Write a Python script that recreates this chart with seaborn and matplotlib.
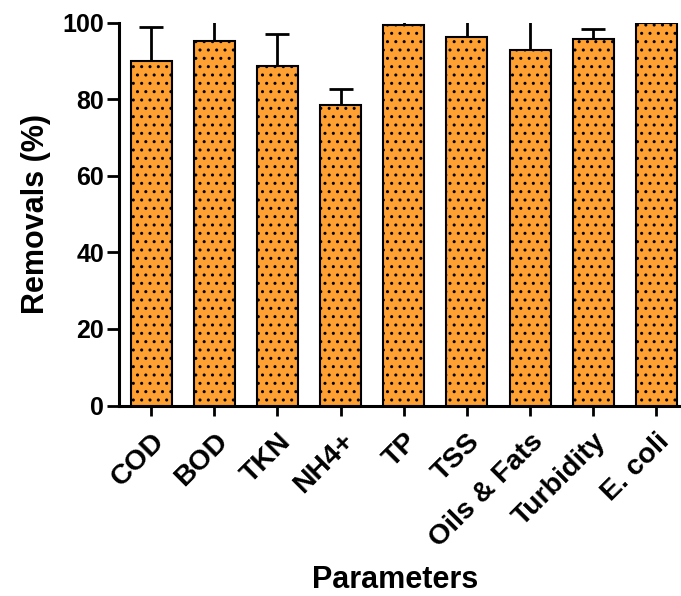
import matplotlib
matplotlib.use("Agg")
import matplotlib.pyplot as plt
import seaborn as sns
import pandas as pd
import numpy as np

categories = ["COD", "BOD", "TKN", "NH4+", "TP", "TSS", "Oils & Fats", "Turbidity", "E. coli"]
removals = [89.9, 95.1, 88.6, 78.4, 99.4, 96.3, 92.7, 95.8, 99.9]
upper_err = [9.0, 7.0, 8.5, 4.2, 1.5, 5.5, 9.0, 2.6, 0.0]

df = pd.DataFrame({"Parameter": categories, "Removal": removals})

sns.set_theme(style="ticks")
plt.rcParams["font.family"] = ["Liberation Sans", "DejaVu Sans"]
plt.rcParams["font.weight"] = "bold"
plt.rcParams["hatch.linewidth"] = 1.0
for k in ["text.color", "axes.labelcolor", "xtick.color", "ytick.color", "axes.edgecolor"]:
    plt.rcParams[k] = "black"

fig = plt.figure(figsize=(6.81, 5.96), dpi=100)
ax = fig.add_axes([0.1747, 0.3196, 1.0 - 0.1747, 0.9622 - 0.3196])

sns.barplot(data=df, x="Parameter", y="Removal", ax=ax, color="#FFA033",
            width=0.65, edgecolor="black", linewidth=1.5, saturation=1,
            errorbar=None, zorder=3)
for p in ax.patches:
    p.set_hatch("..")
    p.set_facecolor("#FFA033")

xpos = np.arange(len(categories))
ax.errorbar(xpos, removals, yerr=[np.zeros(len(categories)), upper_err],
            fmt="none", ecolor="black", elinewidth=2.0, capsize=8.3,
            capthick=2.0, zorder=2)

ax.set_ylim(0, 100)
ax.set_xlim(-0.51, 8.39)
ax.set_yticks([0, 20, 40, 60, 80, 100])
sns.despine(ax=ax)
for s in ["left", "bottom"]:
    ax.spines[s].set_linewidth(2.2)
ax.tick_params(axis="y", length=8.6, width=2.0, labelsize=18, pad=2)
ax.tick_params(axis="x", length=7.5, width=2.0, labelsize=18, pad=9)
for lbl in ax.get_yticklabels():
    lbl.set_fontweight("bold")
ax.set_xticks(xpos)
ax.set_xticklabels(categories, rotation=45, ha="right", rotation_mode="anchor",
                   fontweight="bold", fontsize=20.5)

ax.set_ylabel("Removals (%)", fontsize=22, fontweight="bold", labelpad=8)
ax.set_xlabel("Parameters", fontsize=22, fontweight="bold")
ax.xaxis.set_label_coords(0.491, -0.417)

fig.savefig("out.png", dpi=100)
